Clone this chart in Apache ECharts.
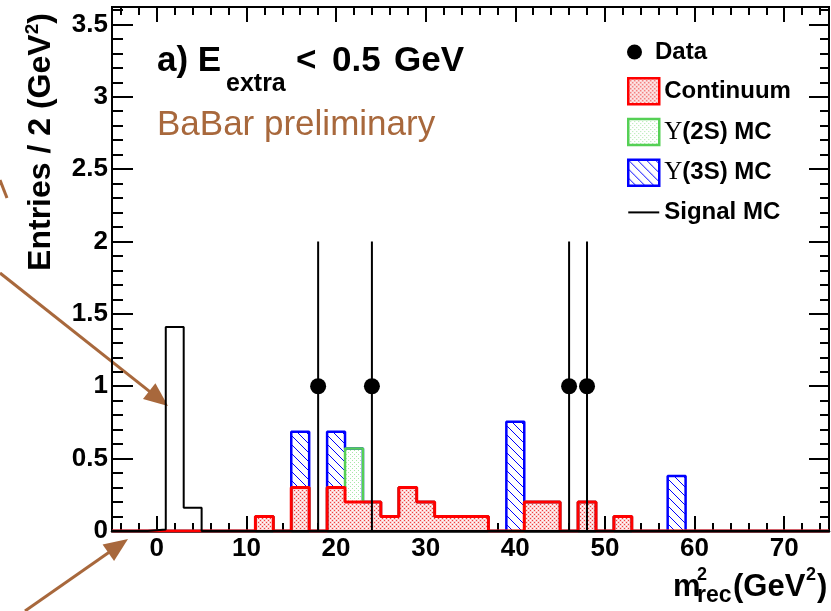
<!DOCTYPE html>
<html>
<head>
<meta charset="utf-8">
<script src="https://cdn.jsdelivr.net/npm/echarts@6/dist/echarts.min.js"></script>
<style>
html, body { margin: 0; padding: 0; background: #fff; }
#main { width: 831px; height: 611px; }
</style>
</head>
<body>
<div id="main"></div>
<script>
// histogram binning: 40 bins of 2 GeV^2 from -5 to 75
var binLow = -5;
var binWidth = 2;

// bin contents, one value per bin
var continuum = [0, 0, 0, 0, 0,   0, 0, 0, 0.1, 0,   0.3, 0, 0.3, 0.2, 0.2,   0.1, 0.3, 0.2, 0.1, 0.1,
                 0.1, 0, 0, 0.2, 0.2,   0, 0.2, 0, 0.1, 0,   0, 0, 0, 0, 0,   0, 0, 0, 0, 0];
var ups2S     = [0, 0, 0, 0, 0,   0, 0, 0, 0, 0,   0, 0, 0, 0.37, 0,   0, 0, 0, 0, 0,
                 0, 0, 0, 0, 0,   0, 0, 0, 0, 0,   0, 0, 0, 0, 0,   0, 0, 0, 0, 0];
var ups3S     = [0, 0, 0, 0, 0,   0, 0, 0, 0, 0,   0.385, 0, 0.385, 0, 0,   0, 0, 0, 0, 0,
                 0, 0, 0.755, 0, 0,   0, 0, 0, 0, 0,   0, 0.38, 0, 0, 0,   0, 0, 0, 0, 0];
var signalMC  = [0, 0, 0.01, 1.41, 0.16,   0, 0, 0, 0, 0,   0, 0, 0, 0, 0,   0, 0, 0, 0, 0,
                 0, 0, 0, 0, 0,   0, 0, 0, 0, 0,   0, 0, 0, 0, 0,   0, 0, 0, 0, 0];

// data points (bin centres) with errors
var dataX = [18, 24, 46, 48];
var dataY = [1, 1, 1, 1];
var dataErr = [1, 1, 1, 1];

// tick positions
var xMajor = [0, 10, 20, 30, 40, 50, 60, 70];
var xMinor = [-4, -2, 2, 4, 6, 8, 12, 14, 16, 18, 22, 24, 26, 28, 32, 34, 36, 38, 42, 44, 46, 48,
              52, 54, 56, 58, 62, 64, 66, 68, 72, 74];
var yMajor = [0, 0.5, 1, 1.5, 2, 2.5, 3, 3.5];
var yMinor = [0.1, 0.2, 0.3, 0.4, 0.6, 0.7, 0.8, 0.9, 1.1, 1.2, 1.3, 1.4, 1.6, 1.7, 1.8, 1.9,
              2.1, 2.2, 2.3, 2.4, 2.6, 2.7, 2.8, 2.9, 3.1, 3.2, 3.3, 3.4, 3.6];

var FONT = '"Liberation Sans", Arial, Helvetica, sans-serif';
var BROWN = '#a8683c';

// stacked (cumulative) histograms, ROOT THStack style
var cum2S = continuum.map(function (v, i) { return v + ups2S[i]; });
var cum3S = cum2S.map(function (v, i) { return v + ups3S[i]; });

function stepPoints(vals) {
  var pts = [];
  for (var i = 0; i < vals.length; i++) pts.push([binLow + i * binWidth, vals[i]]);
  pts.push([binLow + vals.length * binWidth, vals[vals.length - 1]]);
  return pts;
}

function makePattern(size, bg, draw) {
  var c = document.createElement('canvas');
  c.width = size; c.height = size;
  var g = c.getContext('2d');
  g.fillStyle = bg;
  g.fillRect(0, 0, size, size);
  draw(g);
  return { image: c, repeat: 'repeat' };
}

var redFill = makePattern(4, '#fbd2d2', function (g) {
  g.fillStyle = '#f04040';
  [[0, 0], [2, 2]].forEach(function (p) { g.fillRect(p[0], p[1], 1, 1); });
  g.fillStyle = '#ffffff';
  [[2, 0], [0, 2]].forEach(function (p) { g.fillRect(p[0], p[1], 1, 1); });
});
var greenFill = makePattern(4, '#fff', function (g) {
  g.fillStyle = '#a8e8a8';
  [[0, 0], [2, 2]].forEach(function (p) { g.fillRect(p[0], p[1], 1, 1); });
});
var blueFill = makePattern(9, '#fff', function (g) {
  g.strokeStyle = '#0000ff';
  g.lineWidth = 1;
  [-9, 0, 9].forEach(function (k) {
    g.beginPath(); g.moveTo(k, 0); g.lineTo(k + 9, 9); g.stroke();
  });
});

function histSeries(name, vals, color, width, fill) {
  return {
    name: name,
    type: 'line',
    step: 'end',
    symbol: 'none',
    silent: true,
    data: stepPoints(vals),
    itemStyle: { color: color },
    lineStyle: { color: color, width: width },
    areaStyle: fill ? { color: fill, opacity: 1 } : undefined
  };
}

function tickX(pos, vals, len, showLine) {
  return {
    type: 'value', position: pos, min: -5, max: 75,
    axisLine: { show: showLine, onZero: false, lineStyle: { color: '#000', width: 2.5 } },
    axisTick: { show: true, inside: true, length: len, customValues: vals, lineStyle: { color: '#000', width: 2 } },
    axisLabel: { show: false },
    splitLine: { show: false }
  };
}
function tickY(pos, vals, len, showLine) {
  return {
    type: 'value', position: pos, min: 0, max: 3.62,
    axisLine: { show: showLine, onZero: false, lineStyle: { color: '#000', width: 2 } },
    axisTick: { show: true, inside: true, length: len, customValues: vals, lineStyle: { color: '#000', width: 2 } },
    axisLabel: { show: false },
    splitLine: { show: false }
  };
}

var xBottom = tickX('bottom', xMajor, 15, true);
xBottom.axisLabel = { show: true, customValues: xMajor, color: '#000', fontFamily: FONT, fontWeight: 'bold', fontSize: 26, margin: 5 };
var yLeft = tickY('left', yMajor, 21, true);
yLeft.axisLabel = { show: true, customValues: yMajor, color: '#000', fontFamily: FONT, fontWeight: 'bold', fontSize: 26, margin: 4 };

function arrow(x1, y1, x2, y2) {
  var dx = x2 - x1, dy = y2 - y1, l = Math.sqrt(dx * dx + dy * dy);
  var ux = dx / l, uy = dy / l, hl = 24, hw = 10;
  var bx = x2 - ux * hl, by = y2 - uy * hl;
  return [
    { type: 'line', shape: { x1: x1, y1: y1, x2: bx + ux * 4, y2: by + uy * 4 }, style: { stroke: BROWN, lineWidth: 3 } },
    { type: 'polygon', shape: { points: [[x2, y2], [bx - uy * hw, by + ux * hw], [bx + uy * hw, by - ux * hw]] }, style: { fill: BROWN } }
  ];
}

var legendText = {
  color: '#000', fontFamily: FONT, fontWeight: 'bold', fontSize: 24, lineHeight: 26,
  rich: {
    u: { fontFamily: '"Liberation Serif", "DejaVu Serif", serif', fontWeight: 'normal', fontSize: 25, lineHeight: 26, color: '#000' },
    b: { fontFamily: FONT, fontWeight: 'bold', fontSize: 24, lineHeight: 26, color: '#000' }
  }
};

var myChart = echarts.init(document.getElementById('main'), null, { renderer: 'canvas' });

var option = {
  animation: false,
  backgroundColor: '#fff',
  grid: {
    left: 112, right: 2, top: 7, bottom: 80,
    show: true, borderColor: '#000', borderWidth: 2, backgroundColor: '#fff',
    containLabel: false, outerBoundsMode: 'none'
  },
  xAxis: [xBottom, tickX('bottom', xMinor, 8, false), tickX('top', xMajor, 15, false), tickX('top', xMinor, 8, false)],
  yAxis: [yLeft, tickY('left', yMinor, 11, false), tickY('right', yMajor, 20, false), tickY('right', yMinor, 9, false)],
  legend: [{
    data: [{ name: 'Data', icon: 'circle', itemStyle: { color: '#000', opacity: 1, borderWidth: 0 } }],
    left: 627, top: 39, orient: 'vertical', padding: 0,
    itemWidth: 31, itemHeight: 15, selectedMode: false,
    textStyle: legendText
  }, {
    data: [
      { name: 'Continuum', icon: 'rect', itemStyle: { color: redFill, borderColor: '#ff0000', borderWidth: 2.5 } },
      { name: 'Υ(2S) MC', icon: 'rect', itemStyle: { color: greenFill, borderColor: '#55d055', borderWidth: 2.5 } },
      { name: 'Υ(3S) MC', icon: 'rect', itemStyle: { color: blueFill, borderColor: '#0000ff', borderWidth: 2.5 } },
      { name: 'Signal MC', icon: 'path://M0,0L31,0L31,2L0,2Z', itemStyle: { color: '#000', borderWidth: 0 } }
    ],
    left: 627, top: 77, orient: 'vertical', padding: 0,
    itemWidth: 31, itemHeight: 26, itemGap: 12.3, selectedMode: false,
    formatter: function (name) {
      if (name.charAt(0) === 'Υ') return '{u|Υ}{b|' + name.slice(1) + '}';
      return '{b|' + name + '}';
    },
    textStyle: legendText
  }],
  graphic: {
    elements: [
      { type: 'text', x: 157, y: 61, style: { text: 'a) E', font: 'bold 35px ' + FONT, fill: '#000', verticalAlign: 'middle' } },
      { type: 'text', x: 226, y: 84, style: { text: 'extra', font: 'bold 25px ' + FONT, fill: '#000', verticalAlign: 'middle' } },
      { type: 'text', x: 296, y: 61, style: { text: '<', font: 'bold 35px ' + FONT, fill: '#000', verticalAlign: 'middle' } },
      { type: 'text', x: 332, y: 61, style: { text: '0.5', font: 'bold 35px ' + FONT, fill: '#000', verticalAlign: 'middle' } },
      { type: 'text', x: 429, y: 61, style: { text: 'GeV', font: 'bold 35px ' + FONT, fill: '#000', verticalAlign: 'middle', align: 'center' } },
      { type: 'text', x: 157, y: 125, style: { text: 'BaBar preliminary', font: '35px ' + FONT, fill: BROWN, verticalAlign: 'middle' } },
      {
        type: 'text', x: 41, y: 142, rotation: Math.PI / 2,
        style: {
          text: '{a|Entries / 2 (GeV}{s|2}{a|)}', align: 'center', verticalAlign: 'middle',
          rich: {
            a: { font: 'bold 32px ' + FONT, fill: '#000', lineHeight: 36, verticalAlign: 'middle' },
            s: { font: 'bold 19px ' + FONT, fill: '#000', lineHeight: 36, verticalAlign: 'top' }
          }
        }
      },
      { type: 'text', x: 673, y: 587, style: { text: 'm', font: 'bold 31px ' + FONT, fill: '#000', verticalAlign: 'middle' } },
      { type: 'text', x: 697, y: 575, style: { text: '2', font: 'bold 18px ' + FONT, fill: '#000', verticalAlign: 'middle' } },
      { type: 'text', x: 697, y: 596, style: { text: 'rec', font: 'bold 23px ' + FONT, fill: '#000', verticalAlign: 'middle' } },
      { type: 'text', x: 733, y: 587, style: { text: '(GeV', font: 'bold 31px ' + FONT, fill: '#000', verticalAlign: 'middle' } },
      { type: 'text', x: 806, y: 575, style: { text: '2', font: 'bold 18px ' + FONT, fill: '#000', verticalAlign: 'middle' } },
      { type: 'text', x: 817, y: 587, style: { text: ')', font: 'bold 31px ' + FONT, fill: '#000', verticalAlign: 'middle' } },
      { type: 'line', shape: { x1: 0, y1: 180, x2: 7, y2: 198 }, style: { stroke: BROWN, lineWidth: 3 } }
    ].concat(arrow(0, 273, 168, 406)).concat(arrow(25, 611, 128, 539))
  },
  series: [
    histSeries('Υ(3S) MC', cum3S, '#0000ff', 2.5, blueFill),
    histSeries('Υ(2S) MC', cum2S, '#55d055', 2.5, greenFill),
    histSeries('Continuum', continuum, '#ff0000', 3, redFill),
    histSeries('Signal MC', signalMC, '#000', 2, null),
    {
      name: 'errors',
      type: 'custom',
      silent: true,
      z: 5,
      data: dataX.map(function (x, i) { return [x, dataY[i], dataErr[i]]; }),
      encode: { x: 0, y: 1 },
      renderItem: function (params, api) {
        var x = api.value(0), y = api.value(1), e = api.value(2);
        var p1 = api.coord([x, y - e]);
        var p2 = api.coord([x, y + e]);
        return { type: 'line', shape: { x1: p1[0], y1: p1[1], x2: p2[0], y2: p2[1] }, style: { stroke: '#000', lineWidth: 2 } };
      }
    },
    {
      name: 'Data',
      type: 'scatter',
      symbol: 'circle',
      symbolSize: 16,
      silent: true,
      z: 6,
      itemStyle: { color: '#000', opacity: 1 },
      data: dataX.map(function (x, i) { return [x, dataY[i]]; })
    }
  ]
};

myChart.setOption(option);
</script>
</body>
</html>
